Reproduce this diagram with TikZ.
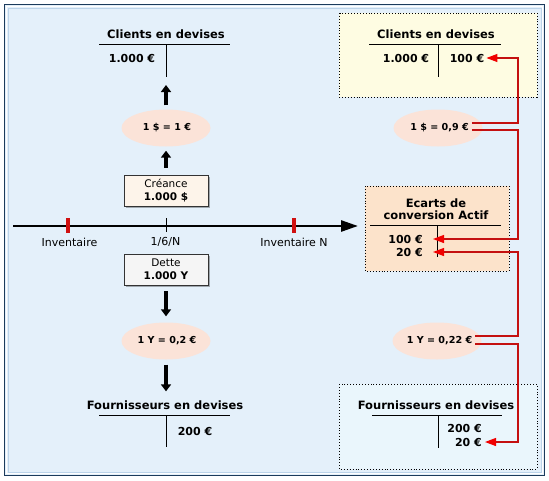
\documentclass[tikz,border=0pt]{standalone}
\usepackage{fontspec}
\setmainfont{DejaVu Sans}
\usetikzlibrary{arrows.meta,shapes.geometric,shadows,calc}
\definecolor{bg}{HTML}{E4F0FA}
\definecolor{framedark}{HTML}{1C3B5C}
\definecolor{framelight}{HTML}{BCD4EA}
\definecolor{peach}{HTML}{FBE3D8}
\definecolor{creafill}{HTML}{FDF4EA}
\definecolor{dettefill}{HTML}{F5F5F5}
\definecolor{boxline}{HTML}{333333}
\definecolor{yellowbox}{HTML}{FEFCE2}
\definecolor{ecartbox}{HTML}{FCE3CB}
\definecolor{fournbox}{HTML}{EAF6FC}
\definecolor{redline}{HTML}{C41010}
\definecolor{redtip}{HTML}{F00000}
\definecolor{ticked}{HTML}{D01010}
\tikzset{
 title/.style={font=\fontsize{11.5}{12.5}\selectfont\bfseries, inner sep=0pt, align=center},
 amt/.style={font=\fontsize{11}{12}\selectfont\bfseries, inner sep=1pt},
 tllabel/.style={font=\fontsize{11}{12}\selectfont, inner sep=0pt},
 ell/.style={ellipse, fill=peach, minimum width=89pt, minimum height=37pt, inner sep=0pt},
 elltext/.style={font=\fontsize{9.6}{11}\selectfont\bfseries, inner sep=1pt},
 docbox/.style={draw=boxline, line width=0.8pt, minimum width=84pt, minimum height=31pt, align=center,
   font=\fontsize{10.5}{13}\selectfont, inner sep=0pt,
   drop shadow={shadow xshift=2pt,shadow yshift=-2pt,fill=black,opacity=0.3}},
 tacc/.style={line width=1pt, black},
 bigarrow/.style={line width=3.6pt, -{Triangle[length=7pt,width=10pt]}},
 redc/.style={line width=1.2pt, draw=redline, -{Triangle[length=11pt,width=8pt,color=redtip]}},
 dotbox/.style={draw=black, dotted, line width=0.9pt},
}
\begin{document}
\begin{tikzpicture}[x=1pt,y=-1pt]
\useasboundingbox (0,0) rectangle (549,480);
% frame
\fill[white] (0,0) rectangle (549,480);
\fill[bg] (4,4) rectangle (545,476);
\draw[framedark, line width=1pt] (4.5,4.5) rectangle (544.5,475.5);
\draw[white, line width=1pt] (6.5,6.5) rectangle (542.5,473.5);
\draw[framelight, line width=0.8pt] (8,8) rectangle (541,472);

% right boxes
\draw[dotbox, fill=yellowbox] (339,13) rectangle (537,97);
\draw[dotbox, fill=ecartbox] (365,186) rectangle (509,271);
\draw[dotbox, fill=fournbox] (339,384) rectangle (537,469);

% ---- left column ----
\node[title] (clL) at (166,34) {Clients en devises};
\draw[tacc] (99,44) -- (230,44);
\draw[tacc] (166,44) -- (166,77);
\coordinate (clLb) at (166,77);
\node[amt] (clL1000) at (132,58) {1.000 €};

\node[ell] (eL1) at (166,128) {};
\node[elltext] (tL1) at (167,128) {1 \$ = 1 €};

\node[docbox, fill=creafill] (crea) at (166,190.5) {Créance\\\textbf{1.000 \$}};

\draw[bigarrow, shorten <=4pt, shorten >=8pt] (eL1.north) -- (clLb);
\draw[bigarrow, shorten <=7pt, shorten >=4pt] (crea.north) -- (eL1.south);

% timeline
\coordinate (tl0) at (13,226);
\coordinate (tl1) at (358,226);
\draw[line width=2.6pt, -{Triangle[length=17pt,width=11pt]}] (tl0) -- (tl1);
\draw[ticked, line width=4pt] (68,218) -- (68,233);
\draw[ticked, line width=4pt] (294,218) -- (294,233);
\draw[black, line width=0.8pt] (166,218) -- (166,232);
\node[tllabel] (inv) at (69.5,242) {Inventaire};
\node[tllabel] (date) at (165.5,242) {1/6/N};
\node[tllabel] (invN) at (294,242) {Inventaire N};

\node[docbox, fill=dettefill] (dette) at (166,269.5) {Dette\\\textbf{1.000 Y}};

\node[ell] (eL2) at (166,341) {};
\node[elltext] (tL2) at (167,341) {1 Y = 0,2 €};

\node[title] (frL) at (165,405) {Fournisseurs en devises};
\draw[tacc] (99,415) -- (230,415);
\draw[tacc] (166,415) -- (166,447);
\node[amt] (frL200) at (195,431) {200 €};

\draw[bigarrow, shorten <=6pt, shorten >=6pt] (dette.south) -- (eL2.north);
\draw[bigarrow, shorten <=5pt, shorten >=9pt] (eL2.south) -- (eL2.south |- frL.north);

% ---- right column ----
\node[title] (clR) at (436,34) {Clients en devises};
\draw[tacc] (369,44) -- (501,44);
\draw[tacc] (438,44) -- (438,77);
\node[amt] (clR1000) at (406,58) {1.000 €};
\node[amt] (clR100) at (467,58) {100 €};

\node[ell] (eR1) at (438,128) {};
\node[elltext] (tR1) at (439.5,128) {1 \$ = 0,9 €};

\node[title] (ecT) at (436,209) {Ecarts de\\conversion Actif};
\draw[tacc] (370,225) -- (501,225);
\draw[tacc] (437,225) -- (437,257);
\node[amt, anchor=east] (ec100) at (424,239) {100 €};
\node[amt, anchor=east] (ec20) at (424,252) {20 €};

\node[ell] (eR2) at (437,341) {};
\node[elltext] (tR2) at (439.5,341) {1 Y = 0,22 €};

\node[title] (frR) at (436,405) {Fournisseurs en devises};
\draw[tacc] (372,415) -- (502,415);
\draw[tacc] (438,415) -- (438,448);
\node[amt, anchor=east] (frR200) at (483,428) {200 €};
\node[amt, anchor=east] (frR20) at (483,442) {20 €};

% red connectors
\coordinate (bx) at (518,0);
\draw[redc] ($(tR1.east)+(2,-5)$) -| (bx |- clR100.east) -- ($(clR100.east)+(1,0)$);
\draw[redc] ($(tR1.east)+(2,2)$) -| (bx |- ec100.east) -- ($(ec100.east)+(9,0)$);
\draw[redc] ($(tR2.east)+(2,-5)$) -| (bx |- ec20.east) -- ($(ec20.east)+(9,0)$);
\draw[redc] ($(tR2.east)+(2,3)$) -| (bx |- frR20.east) -- ($(frR20.east)+(2,0)$);
\end{tikzpicture}
\end{document}
